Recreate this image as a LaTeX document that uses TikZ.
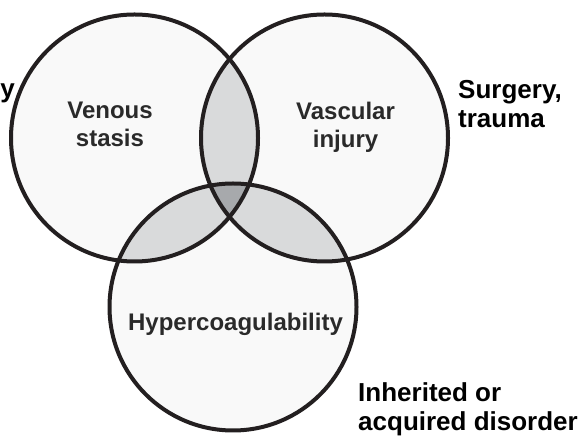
\documentclass[tikz,border=0pt]{standalone}
\usepackage{fontspec}
\setmainfont{Liberation Sans}
\definecolor{vennline}{HTML}{231F20}
\definecolor{vennbase}{HTML}{F9F9F9}
\definecolor{vennpair}{HTML}{D9DADB}
\definecolor{venntriple}{HTML}{A7A9AC}
\definecolor{venntext}{HTML}{2A2A2A}

\begin{document}
\begin{tikzpicture}[x=1pt,y=1pt,line cap=round,line join=round,
  ring/.style={circle,draw=vennline,line width=4pt,minimum size=247pt,inner sep=0pt},
  inlabel/.style={font=\fontsize{24}{28}\selectfont\bfseries,text=venntext,align=center,inner sep=0pt},
  outlabel/.style={font=\fontsize{26}{29}\selectfont\bfseries,text=black,align=left,inner sep=0pt}]
\useasboundingbox (0,0) rectangle (586,436);
\coordinate (cStasis) at (134.5,298);
\coordinate (cInjury) at (324.5,298);
\coordinate (cHyper) at (233,129);
\def\rad{123.5}
\fill[vennbase] (cStasis) circle (\rad) (cInjury) circle (\rad) (cHyper) circle (\rad);
\begin{scope}
\clip (cStasis) circle (\rad);
\fill[vennpair] (cInjury) circle (\rad) (cHyper) circle (\rad);
\end{scope}
\begin{scope}
\clip (cInjury) circle (\rad);
\fill[vennpair] (cHyper) circle (\rad);
\end{scope}
\begin{scope}
\clip (cStasis) circle (\rad);
\clip (cInjury) circle (\rad);
\fill[venntriple] (cHyper) circle (\rad);
\end{scope}
\node[ring] (stasis) at (cStasis) {};
\node[ring] (injury) at (cInjury) {};
\node[ring] (hyper) at (cHyper) {};
\node[inlabel] (lStasis) at (110,311.5) {Venous\\stasis};
\node[inlabel] (lInjury) at (345.5,308.5) {Vascular\\injury};
\node[inlabel] (lHyper) at (235.5,112) {Hypercoagulability};
\node[outlabel,anchor=west] (lSurgery) at (458,331.5) {Surgery,\\trauma};
\node[outlabel,anchor=west] (lDisorder) at (358,27) {Inherited or\\acquired disorder};
\node[outlabel,anchor=base east] (lImmob) at (15,338) {y};
\end{tikzpicture}
\end{document}
